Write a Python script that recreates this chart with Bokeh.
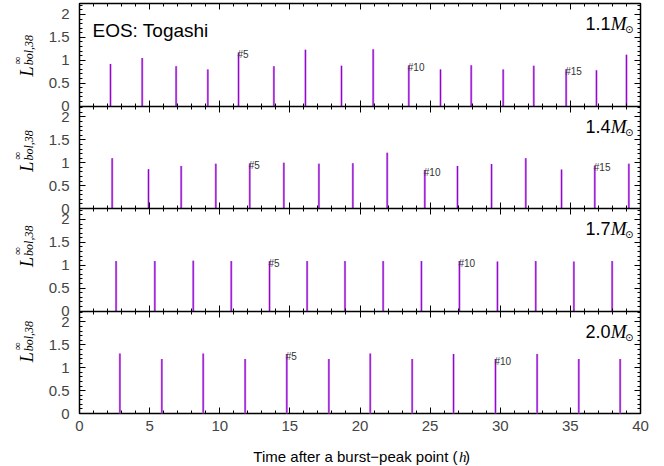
import math
from bokeh.plotting import figure
from bokeh.layouts import column, row
from bokeh.models import (Range1d, LinearAxis, SingleIntervalTicker, FixedTicker, Label,
                          ColumnDataSource, CustomJSTickFormatter)
from bokeh.embed import file_html
from bokeh.resources import INLINE
from bokeh.core.properties import value

# ---------------- data ----------------
masses = ["1.1", "1.4", "1.7", "2.0"]

t_11 = [2.21, 4.47, 6.89, 9.15, 11.34, 13.86, 16.11, 18.68, 20.94, 23.48, 25.74, 27.93, 30.21, 32.39, 34.70, 36.86, 39.00]
L_11 = [0.92, 1.05, 0.87, 0.80, 1.16, 0.87, 1.23, 0.88, 1.24, 0.88, 0.80, 0.89, 0.80, 0.88, 0.80, 0.78, 1.12]

t_14 = [2.33, 4.92, 7.25, 9.72, 12.14, 14.57, 17.07, 19.49, 21.94, 24.62, 26.95, 29.38, 31.82, 34.37, 36.74, 39.17]
L_14 = [1.10, 0.86, 0.93, 0.98, 0.98, 1.00, 0.98, 0.99, 1.22, 0.84, 0.93, 0.97, 1.10, 0.85, 0.93, 0.98]

t_17 = [2.61, 5.37, 8.11, 10.82, 13.55, 16.23, 18.93, 21.65, 24.38, 27.09, 29.80, 32.53, 35.25, 37.98]
L_17 = [1.09, 1.09, 1.10, 1.09, 1.08, 1.09, 1.09, 1.09, 1.09, 1.09, 1.08, 1.09, 1.08, 1.09]

t_20 = [2.88, 5.87, 8.82, 11.81, 14.78, 17.78, 20.73, 23.72, 26.67, 29.66, 32.63, 35.60, 38.55]
L_20 = [1.31, 1.19, 1.31, 1.19, 1.30, 1.19, 1.31, 1.19, 1.30, 1.19, 1.30, 1.19, 1.19]

burst_numbers = [5, 10, 15]
y_ticks = [0, 0.5, 1, 1.5, 2]
y_minor_step = 0.1
x_lim = (0, 40)
panel_span = 2.24          # y extent of one panel (0 .. 2.24)
eos_text = "EOS: Togashi"
x_label_main = "Time after a burst\u2212peak point ("
x_label_var = "h"
x_label_end = ")"

series = [(t_11, L_11), (t_14, L_14), (t_17, L_17), (t_20, L_20)]

# ---------------- layout / style ----------------
SANS = "Liberation Sans"
SERIF = "Liberation Serif"
LW = 38                 # width of the y-label strip
FL = 79 - LW            # left border of main figure
FW = 561                # frame width
FR = 20
FT = 3
NP = len(series)
FH = 410                # frame height (all panels)
PH = FH / NP
FB = 28
MAIN_H = FT + FH + FB
XL_H = 24

xr = Range1d(*x_lim)
yr = Range1d(0, NP * panel_span)

main = figure(width=FL + FW + FR, height=MAIN_H, x_range=xr, y_range=yr,
              output_backend="svg", toolbar_location=None,
              min_border_left=FL, min_border_right=FR, min_border_top=FT, min_border_bottom=FB)
main.xgrid.visible = False
main.ygrid.visible = False
main.outline_line_color = "black"
main.outline_line_width = 1.5


def tick_style(ax, tin, tout, mtin, mtout):
    ax.major_tick_in = tin
    ax.major_tick_out = tout
    ax.minor_tick_in = mtin
    ax.minor_tick_out = mtout
    ax.major_tick_line_color = "black"
    ax.minor_tick_line_color = "black"


def hide_labels(ax):
    ax.major_label_text_color = None
    ax.major_label_text_font_size = "1px"
    ax.major_label_standoff = 0


offsets = [(NP - 1 - i) * panel_span for i in range(NP)]
n_minor = int(round(panel_span / y_minor_step))
maj = [o + v for o in offsets for v in y_ticks]
mnr = [o + k * y_minor_step for o in offsets for k in range(1, n_minor + 1)]

fmt = CustomJSTickFormatter(args=dict(P=panel_span), code="""
let r = tick - Math.floor((tick + 0.05) / P) * P;
r = Math.round(r * 10) / 10;
return (Math.abs(r - Math.round(r)) < 1e-6) ? r.toFixed(0) : r.toFixed(1);
""")

# left y axis
ya = main.yaxis[0]
ya.ticker = FixedTicker(ticks=maj, minor_ticks=mnr)
ya.formatter = fmt
tick_style(ya, 6, 0, 3, 0)
ya.axis_line_color = None
ya.major_label_text_font = SANS
ya.major_label_text_font_size = "15px"
ya.major_label_standoff = 10

# right mirror axis
yr_ax = LinearAxis(ticker=FixedTicker(ticks=maj, minor_ticks=mnr))
tick_style(yr_ax, 6, 0, 3, 0)
yr_ax.axis_line_color = None
hide_labels(yr_ax)
main.add_layout(yr_ax, "right")

# bottom x axis
xa = main.xaxis[0]
xa.ticker = SingleIntervalTicker(interval=5, num_minor_ticks=5)
tick_style(xa, 6, 0, 3, 0)
xa.axis_line_color = None
xa.major_label_text_font = SANS
xa.major_label_text_font_size = "15px"
xa.major_label_standoff = 7

# top mirror axis
xt = LinearAxis(ticker=SingleIntervalTicker(interval=5, num_minor_ticks=5))
tick_style(xt, 6, 0, 3, 0)
xt.axis_line_color = None
hide_labels(xt)
main.add_layout(xt, "above")

# inner panel boundaries (ticks pointing into both neighbouring panels)
for o in offsets[:-1]:
    ax = LinearAxis(ticker=SingleIntervalTicker(interval=5, num_minor_ticks=5), fixed_location=o)
    tick_style(ax, 6, 6, 3, 3)
    ax.axis_line_color = "black"
    ax.axis_line_width = 1.5
    hide_labels(ax)
    main.add_layout(ax, "below")

for i, ((t, L), m) in enumerate(zip(series, masses)):
    name = "p%d" % i
    main.extra_y_ranges[name] = Range1d(-offsets[i], NP * panel_span - offsets[i])
    src = ColumnDataSource(dict(t=t, L=L))
    main.segment(x0="t", y0=0, x1="t", y1="L", source=src, y_range_name=name,
                 line_color="#c98ae8", line_width=2.2)
    main.segment(x0="t", y0=0, x1="t", y1="L", source=src, y_range_name=name,
                 line_color="#9400d3", line_width=1.0)

    lx = [t[k - 1] for k in burst_numbers if k <= len(t)]
    ly = [L[k - 1] for k in burst_numbers if k <= len(t)]
    lt = ["#%d" % k for k in burst_numbers if k <= len(t)]
    main.text(x=lx, y=ly, text=lt, y_range_name=name, text_font=value(SANS),
              text_font_size="10px", text_color="#333333", text_baseline="middle",
              text_align="left", x_offset=-1, y_offset=2)

    top_y = (NP - i) * PH   # frame-relative screen y of panel top
    main.add_layout(Label(x=FW - 30, y=top_y - 20, x_units="screen", y_units="screen", text=m,
                          text_font=SANS, text_font_size="18px", text_align="right",
                          text_baseline="alphabetic", text_color="black"))
    main.add_layout(Label(x=FW - 14, y=top_y - 20, x_units="screen", y_units="screen", text="M",
                          text_font=SERIF, text_font_style="italic", text_font_size="19px",
                          text_align="right", text_baseline="alphabetic", text_color="black"))
    main.add_layout(Label(x=FW - 7, y=top_y - 26, x_units="screen", y_units="screen",
                          text="\u2299", text_font="DejaVu Sans", text_font_size="10px",
                          text_align="right", text_baseline="alphabetic", text_color="black"))
    if i == 0:
        main.add_layout(Label(x=13, y=top_y - 27, x_units="screen", y_units="screen",
                              text=eos_text, text_font=SANS, text_font_size="19px",
                              text_align="left", text_baseline="alphabetic",
                              text_color="black"))

# ---------------- y-label strip ----------------
ylab = figure(width=LW, height=MAIN_H, x_range=Range1d(0, LW), y_range=Range1d(0, MAIN_H),
              output_backend="svg", toolbar_location=None, x_axis_type=None, y_axis_type=None,
              min_border=0)
ylab.outline_line_color = None
ylab.xgrid.visible = False
ylab.ygrid.visible = False
bottoms = [MAIN_H - (FT + (i + 1) * PH) for i in range(NP)]
ylab.text(x=[26] * NP, y=[b + 27 for b in bottoms], text=["L"] * NP, angle=math.pi / 2,
          text_font=value(SERIF), text_font_style="italic", text_font_size="18px",
          text_align="left", text_baseline="alphabetic")
ylab.text(x=[16] * NP, y=[b + 40 for b in bottoms], text=["\u221e"] * NP, angle=math.pi / 2,
          text_font=value(SERIF), text_font_size="11px",
          text_align="left", text_baseline="alphabetic")
ylab.text(x=[28.5] * NP, y=[b + 39 for b in bottoms], text=["bol,38"] * NP, angle=math.pi / 2,
          text_font=value(SERIF), text_font_style="italic", text_font_size="12px",
          text_align="left", text_baseline="alphabetic")

# ---------------- x-label strip ----------------
TW = LW + FL + FW + FR
xlab = figure(width=TW, height=XL_H, x_range=Range1d(0, TW), y_range=Range1d(0, XL_H),
              output_backend="svg", toolbar_location=None, x_axis_type=None, y_axis_type=None,
              min_border=0)
xlab.outline_line_color = None
xlab.xgrid.visible = False
xlab.ygrid.visible = False
xlab.text(x=[457], y=[9], text=[x_label_main], text_font=value(SANS), text_font_size="15px",
          text_align="right", text_baseline="alphabetic")
xlab.text(x=[458.5], y=[9], text=[x_label_var], text_font=value(SERIF), text_font_style="italic",
          text_font_size="15px", text_align="left", text_baseline="alphabetic")
xlab.text(x=[464.5], y=[9], text=[x_label_end], text_font=value(SANS), text_font_size="15px",
          text_align="left", text_baseline="alphabetic")

layout = column(row(ylab, main), xlab)
open("out.html", "w").write(file_html(layout, INLINE))
